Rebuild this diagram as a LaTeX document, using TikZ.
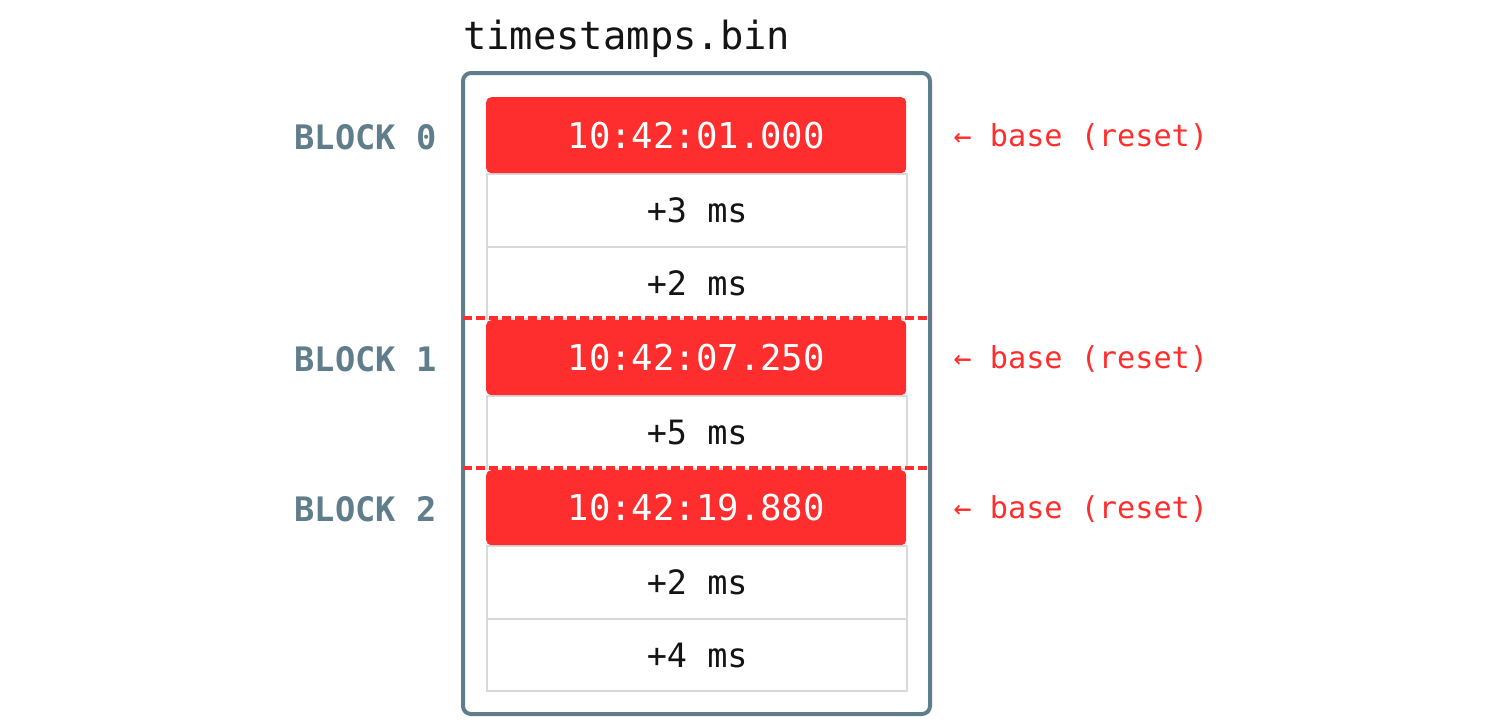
\documentclass[tikz,border=0pt]{standalone}
\usepackage{fontspec}
\setmonofont{DejaVu Sans Mono}
\definecolor{slate}{HTML}{607D8B}
\definecolor{hot}{HTML}{FF2E2E}
\definecolor{rule}{HTML}{D9D9D9}
\begin{document}
\begin{tikzpicture}[x=1pt,y=-1pt,
  whiterow/.style={draw=rule,line width=2.4pt,fill=white,minimum width=420pt,inner sep=0pt,anchor=north west,
     font=\ttfamily\fontsize{33.5}{40}\selectfont,text=black!92},
  redrow/.style={fill=hot,rounded corners=5pt,minimum width=420pt,inner sep=0pt,anchor=north west,
     font=\ttfamily\fontsize{35.6}{40}\selectfont,text=white},
  blocklab/.style={anchor=east,font=\ttfamily\bfseries\fontsize{33.7}{40}\selectfont,text=slate},
  baselab/.style={anchor=west,font=\ttfamily\fontsize{30.2}{34}\selectfont,text=hot},
  sep/.style={draw=hot,line width=3.2pt,dash pattern=on 9pt off 4pt}]
\useasboundingbox (0,0) rectangle (1500,726);
% outer file box
\node (bin) [draw=slate,line width=4pt,rounded corners=8pt,minimum width=467pt,minimum height=641pt,inner sep=0pt] at (696.5,393.5) {};
\node (title) [anchor=base west,inner sep=0pt,font=\ttfamily\fontsize{38.8}{44}\selectfont,text=black!92] at (463,49) {timestamps.bin};
% white rows
\node (r01) [whiterow,minimum height=73pt] at (486,173) {+3 ms};
\node (r02) [whiterow,minimum height=72pt] at (486,246) {+2 ms};
\node (r11) [whiterow,minimum height=73pt] at (486,395) {+5 ms};
\node (r21) [whiterow,minimum height=73pt] at (486,545) {+2 ms};
\node (r22) [whiterow,minimum height=72pt] at (486,618) {+4 ms};
% red base rows
\node (r00) [redrow,minimum height=76pt] at (486,97) {10:42:01.000};
\node (r10) [redrow,minimum height=75pt] at (486,320) {10:42:07.250};
\node (r20) [redrow,minimum height=75pt] at (486,470) {10:42:19.880};
% separators
\coordinate (s1w) at (463,318); \coordinate (s1e) at (930,318);
\coordinate (s2w) at (463,468); \coordinate (s2e) at (930,468);
\draw[sep] (s1w) -- (s1e);
\draw[sep] (s2w) -- (s2e);
% labels
\node (b0) [blocklab] at (440,137) {BLOCK 0};
\node (b1) [blocklab] at (440,359) {BLOCK 1};
\node (b2) [blocklab] at (440,509) {BLOCK 2};
\node (l0) [baselab] at (950,137) {← base (reset)};
\node (l1) [baselab] at (950,359) {← base (reset)};
\node (l2) [baselab] at (950,509) {← base (reset)};
\end{tikzpicture}
\end{document}
